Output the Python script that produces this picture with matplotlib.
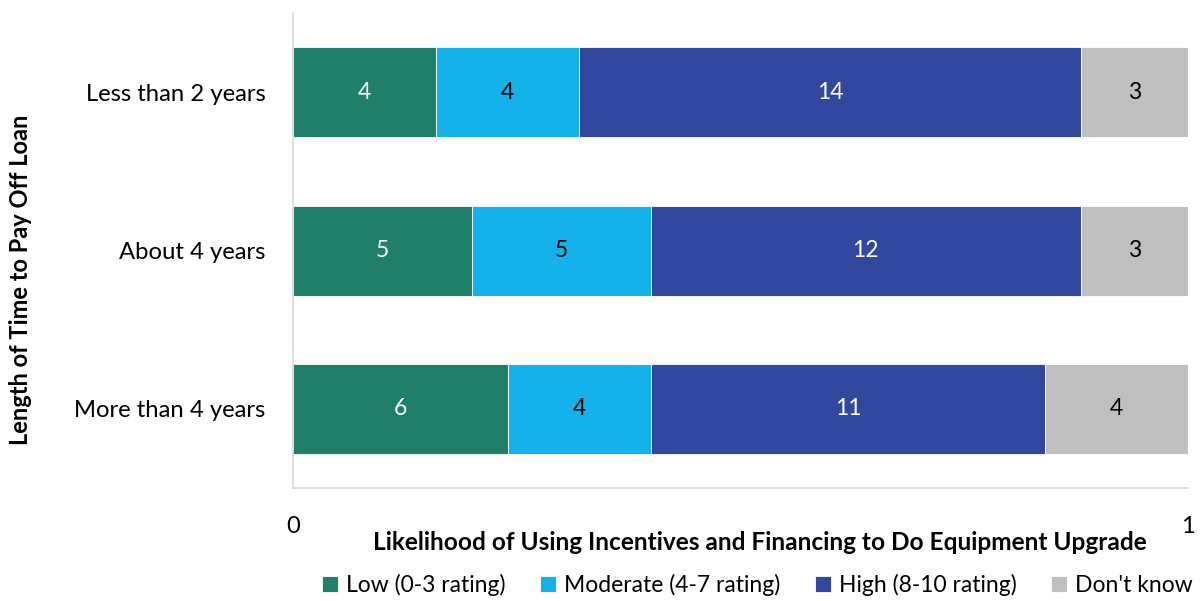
import numpy as np
import matplotlib.pyplot as plt

plt.rcParams['font.family'] = ['Lato', 'DejaVu Sans']

# Survey counts per payoff period
periods = ['Less than 2 years', 'About 4 years', 'More than 4 years']
low = [4, 5, 6]
moderate = [4, 5, 4]
high = [14, 12, 11]
dont_know = [3, 3, 4]

series = [
    ('Low (0-3 rating)', low, '#1f7f68', 'white'),
    ('Moderate (4-7 rating)', moderate, '#13b2ea', 'black'),
    ('High (8-10 rating)', high, '#31489e', 'white'),
    ("Don't know", dont_know, '#bfbfbf', 'black'),
]

totals = np.array(low) + np.array(moderate) + np.array(high) + np.array(dont_know)

fig = plt.figure(figsize=(12, 6.01), dpi=100)
ax = fig.add_axes([0.2442, 0.188, 0.7458, 0.79])

y = np.arange(len(periods))
left = np.zeros(len(periods))
for name, vals, color, txt in series:
    share = np.array(vals) / totals
    bars = ax.barh(y, share, left=left, height=0.57, color=color,
                   edgecolor='white', linewidth=0.6, label=name)
    for b, v in zip(bars, vals):
        ax.text(b.get_x() + b.get_width() / 2, b.get_y() + b.get_height() / 2,
                str(v), ha='center', va='center', color=txt, fontsize=16.5)
    left += share

ax.set_xlim(0, 1)
ax.set_ylim(2.5, -0.5)
ax.set_yticks(y)
ax.set_yticklabels(periods, fontsize=17.2)
ax.set_xticks([0, 1])
ax.set_xticklabels(['0', '1'], fontsize=17)
ax.tick_params(axis='both', length=0)
ax.tick_params(axis='x', pad=20)
ax.tick_params(axis='y', pad=20)

for s in ['top', 'right']:
    ax.spines[s].set_visible(False)
for s in ['left', 'bottom']:
    ax.spines[s].set_color('#d9d9d9')
    ax.spines[s].set_linewidth(1.2)

fig.text(0.633, 0.098, 'Likelihood of Using Incentives and Financing to Do Equipment Upgrade',
         ha='center', va='center', fontsize=17.6, fontweight='bold')
fig.text(0.017, 0.535, 'Length of Time to Pay Off Loan', rotation=90,
         ha='center', va='center', fontsize=17, fontweight='bold')

handles, labels = ax.get_legend_handles_labels()
fig.legend(handles, labels, loc='center', bbox_to_anchor=(0.631, 0.027), ncol=4,
           frameon=False, fontsize=16.5, handlelength=0.7, handleheight=0.7,
           handletextpad=0.35, columnspacing=1.5)

fig.savefig('out.png', dpi=100)
